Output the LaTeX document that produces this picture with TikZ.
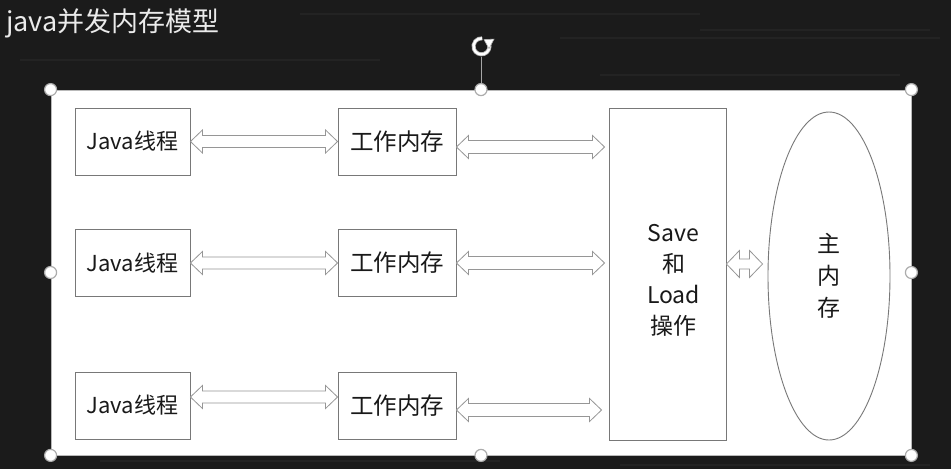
\documentclass[tikz,border=0pt]{standalone}
\usepackage{fontspec}
\setmainfont{Noto Sans CJK SC}
\usetikzlibrary{calc,arrows.meta,shapes.geometric}
\definecolor{board}{RGB}{27,27,27}
\definecolor{edge}{RGB}{120,120,120}
\definecolor{arrowedge}{RGB}{150,150,150}
\definecolor{ink}{RGB}{25,25,25}
\tikzset{
  box/.style={draw=edge, line width=0.9pt, fill=white, text=ink, inner sep=0pt,
    font=\fontsize{22}{26}\selectfont},
  javabox/.style={box, minimum width=115, minimum height=67},
  workbox/.style={box, minimum width=118, minimum height=67, font=\fontsize{23.5}{27}\selectfont},
  blockarrow/.style={draw=arrowedge, line width=0.8pt, fill=white, line join=miter},
  handle/.style={draw=gray!65, fill=white, line width=1.2pt},
}
% #1 left anchor, #2 right anchor, #3 shaft half width, #4 head half width, #5 head length
\newcommand\dblarrow[5]{\path[blockarrow] let \p1=#1, \p2=#2 in
  (\x1,\y1) -- (\x1+#5pt,\y1+#4pt) -- (\x1+#5pt,\y1+#3pt) -- (\x2-#5pt,\y1+#3pt)
  -- (\x2-#5pt,\y1+#4pt) -- (\x2,\y1) -- (\x2-#5pt,\y1-#4pt) -- (\x2-#5pt,\y1-#3pt)
  -- (\x1+#5pt,\y1-#3pt) -- (\x1+#5pt,\y1-#4pt) -- cycle;}
\begin{document}
\begin{tikzpicture}[x=1pt,y=-1pt]
  \fill[board] (0,0) rectangle (951,469);
  \useasboundingbox (0,0) rectangle (951,469);
  % faint chalk streaks
  \foreach \yy/\xa/\xb in {14/300/700,38/560/940,60/20/380,75/600/900,461/100/500,465/620/930,30/700/930}
    \draw[white, opacity=0.035, line width=1.5pt] (\xa,\yy) -- (\xb,\yy);
  % title
  \node[anchor=west, text=white!92!black, font=\fontsize{27}{30}\selectfont, inner sep=0pt] (title) at (6,23) {java并发内存模型};
  % frame
  \node[draw=gray!55, line width=0.8pt, fill=white, minimum width=860, minimum height=365, inner sep=0pt] (frame) at (481,272.5) {};
  % boxes
  \node[javabox] (j1) at (132.5,141.5) {Java线程};
  \node[javabox] (j2) at (132.5,263) {Java线程};
  \node[javabox] (j3) at (132.5,405.5) {Java线程};
  \node[workbox] (w1) at (397,141.5) {工作内存};
  \node[workbox] (w2) at (397,263) {工作内存};
  \node[workbox] (w3) at (397,405.5) {工作内存};
  \node[box, minimum width=117, minimum height=332] (sl) at (667.5,274) {};
  \node[align=center, text=ink, inner sep=0pt, font=\fontsize{23}{31}\selectfont] (sltext) at ($(sl.center)+(6,6)$) {Save\\和\\Load\\操作};
  \node[draw=edge, line width=0.9pt, fill=white, ellipse, minimum width=122, minimum height=328,
        inner sep=0pt, align=center, text=ink, font=\fontsize{23}{32}\selectfont] (mm) at (829,276) {主\\内\\存};
  % block arrows
  \dblarrow{(j1.east)}{(w1.west)}{6}{11.5}{12}
  \dblarrow{(j2.east)}{(w2.west)}{6}{11.5}{12}
  \dblarrow{($(j3.east)+(0,-8.5)$)}{(w3.west)}{6}{11.5}{12}
  \dblarrow{($(w1.east)+(0,5.5)$)}{($(sl.west)+(-4,0)$)}{6.5}{11.5}{12}
  \dblarrow{(w2.east)}{($(sl.west)+(-4,0)$)}{6.5}{11.5}{12}
  \dblarrow{($(w3.east)+(0,4.5)$)}{($(sl.west)+(-7,0)$)}{6.5}{11.5}{12}
  \dblarrow{($(sl.east)+(0,-10)$)}{($(mm.west)+(-5,0)$)}{5}{13.5}{13}
  % selection handles
  \coordinate (rot) at ($(frame.north)+(0,-43)$);
  \draw[gray!70, line width=1pt] (frame.north) -- ($(rot)+(0,10)$);
  \foreach \a in {north west,north,north east,west,east,south west,south,south east}
    \draw[handle] (frame.\a) circle (6);
  \draw[gray!60, line width=4pt] ($(rot)+(8,-3)$) arc (-20:275:8);
  \draw[white, line width=2.4pt] ($(rot)+(8,-3)$) arc (-20:275:8);
  \fill[white, draw=gray!60, line width=0.6pt] ($(rot)+(3,-7)$) -- ($(rot)+(13,-7.5)$) -- ($(rot)+(8,2)$) -- cycle;
\end{tikzpicture}
\end{document}
